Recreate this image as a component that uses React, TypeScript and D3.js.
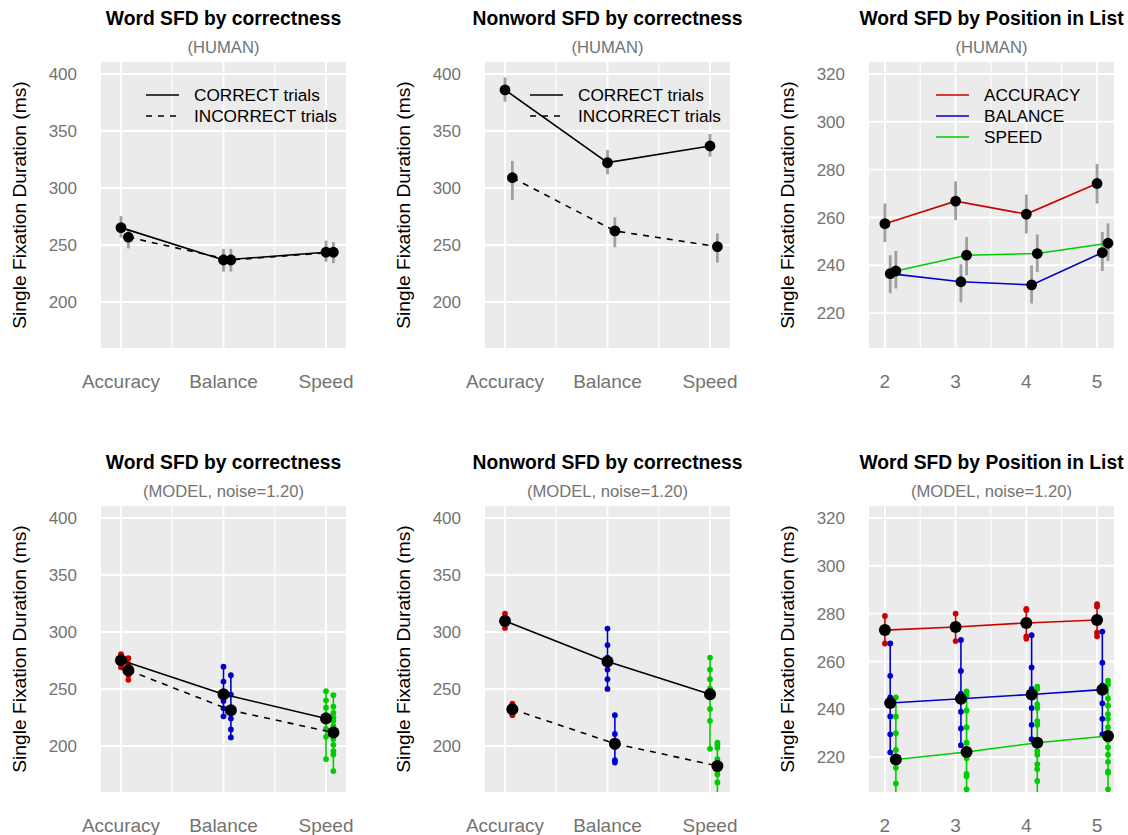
import React, { useEffect, useRef } from "react";
import * as d3 from "d3";

// categories
const conditions = ["Accuracy", "Balance", "Speed"];
const positions = [2, 3, 4, 5];
const seriesNames = ["ACCURACY", "BALANCE", "SPEED"];

// HUMAN - word SFD by correctness
const wordHumanCorrect = [265.2, 236.8, 243.6];
const wordHumanCorrectLo = [256.6, 226.6, 235.3];
const wordHumanCorrectHi = [275.3, 246.5, 253.8];
const wordHumanIncorrect = [256.8, 236.8, 243.6];
const wordHumanIncorrectLo = [247, 226.6, 234];
const wordHumanIncorrectHi = [263.2, 246.5, 252.5];

// HUMAN - nonword SFD by correctness
const nonwordHumanCorrect = [386, 322.2, 336.8];
const nonwordHumanCorrectLo = [375.7, 312, 327.5];
const nonwordHumanCorrectHi = [397, 333.3, 347.4];
const nonwordHumanIncorrect = [309, 262.3, 248.5];
const nonwordHumanIncorrectLo = [289.5, 248, 234.5];
const nonwordHumanIncorrectHi = [323.7, 274.3, 260.2];

// HUMAN - word SFD by position in list
const posHumanAcc = [257.4, 266.8, 261.4, 274.2];
const posHumanAccLo = [249.7, 258.9, 253.3, 265.8];
const posHumanAccHi = [265.8, 275.1, 269.6, 282.4];
const posHumanBal = [236.5, 233.1, 231.8, 245.3];
const posHumanBalLo = [228.3, 224.5, 224, 237.6];
const posHumanBalHi = [244.2, 240.4, 240, 253.9];
const posHumanSpd = [237.6, 244.2, 244.9, 249.2];
const posHumanSpdLo = [230.3, 235.8, 237.2, 241.8];
const posHumanSpdHi = [246, 251.8, 252.9, 257.5];

// MODEL - word SFD by correctness
const wordModelCorrect = [275.2, 245.3, 224];
const wordModelIncorrect = [266.4, 231.3, 211.7];
const wordModelCorrectRuns = [
  [280.5, 278.5, 272, 269],
  [269.5, 256.5, 245, 239.5, 233, 226],
  [248, 240, 233.5, 227.5, 222, 215, 208, 188.5],
];
const wordModelIncorrectRuns = [
  [277, 272, 262, 258],
  [262, 245, 232, 224, 214.5, 207.5],
  [244.5, 234.5, 229, 225, 222, 217.5, 206, 201, 195.5, 192.5, 178],
];

// MODEL - nonword SFD by correctness
const nonwordModelCorrect = [309.7, 274, 245.3];
const nonwordModelIncorrect = [232.2, 202, 182.5];
const nonwordModelCorrectRuns = [
  [316, 303.5],
  [303, 288.5, 277.5, 267, 258.5, 250],
  [277.5, 267, 258.5, 250.5, 242.5, 232.5, 222, 197.5],
];
const nonwordModelIncorrectRuns = [
  [237, 235, 228, 227],
  [227, 210.5, 204, 199, 187.5, 185.5],
  [203, 201, 198.5, 188.5, 185.5, 178, 175, 168, 150],
];

// MODEL - word SFD by position in list
const posModelAcc = [273.1, 274.4, 276.1, 277.3];
const posModelBal = [242.6, 244.4, 246.2, 248.2];
const posModelSpd = [219, 222.1, 226, 228.8];
const posModelAccRuns = [
  [279, 267.5],
  [280, 268.5],
  [282, 281.5, 270.5, 269.5],
  [284, 283, 272, 270.5],
];
const posModelBalRuns = [
  [267.5, 254, 245, 237, 229.5, 222],
  [269, 256, 246.5, 239, 232, 225],
  [271, 257.5, 248.5, 240.5, 233.5, 227.5],
  [272.5, 259.5, 250, 242.5, 236, 229.5],
];
const posModelSpdRuns = [
  [245, 237, 230, 223, 215.5, 209, 198],
  [247.5, 246, 239.5, 232.5, 226, 219.5, 213, 212, 206.5, 198],
  [249.5, 248.5, 242, 240.5, 235, 233.5, 222.5, 221, 217, 215, 210, 198],
  [252, 250.5, 244.5, 241.5, 238, 236, 232.5, 227, 224, 221, 218, 214, 213.5, 206.5, 198],
];

const corrTicks = [200, 250, 300, 350, 400];
const posTicks = [220, 240, 260, 280, 300, 320];

const RED = "#cd0000";
const BLUE = "#0000cd";
const GREEN = "#00cd00";
const colors = [RED, BLUE, GREEN];
const FONT = "'Liberation Sans', Arial, Helvetica, sans-serif";
const GREY_TXT = "#737373";

function frame(svg, col, row, title, subtitle, xDom, yDom, xTicks, xMinor, xLabels, yTicks) {
  const left = 101 + col * 384, top = 62 + row * 444, w = 245, h = 286;
  const x = d3.scaleLinear().domain(xDom).range([left, left + w]);
  const y = d3.scaleLinear().domain(yDom).range([top + h, top]);
  const g = svg.append("g").style("font-family", FONT);

  g.append("rect").attr("x", left).attr("y", top).attr("width", w).attr("height", h).attr("fill", "#ebebeb");
  g.selectAll(".minor").data(xMinor).enter().append("line")
    .attr("x1", d => x(d)).attr("x2", d => x(d)).attr("y1", top).attr("y2", top + h)
    .attr("stroke", "#fff").attr("stroke-width", 1.1);
  g.selectAll(".majx").data(xTicks).enter().append("line")
    .attr("x1", d => x(d)).attr("x2", d => x(d)).attr("y1", top).attr("y2", top + h)
    .attr("stroke", "#fff").attr("stroke-width", 1.9);
  g.selectAll(".majy").data(yTicks).enter().append("line")
    .attr("x1", left).attr("x2", left + w).attr("y1", d => y(d)).attr("y2", d => y(d))
    .attr("stroke", "#fff").attr("stroke-width", 1.9);

  g.append("text").attr("x", left + w / 2).attr("y", top - 37).attr("text-anchor", "middle")
    .attr("font-size", 19.3).attr("font-weight", "bold").attr("fill", "#000").text(title);
  g.append("text").attr("x", left + w / 2).attr("y", top - 9.5).attr("text-anchor", "middle")
    .attr("font-size", 16.6).attr("fill", GREY_TXT).text(subtitle);

  g.selectAll(".ylab").data(yTicks).enter().append("text")
    .attr("x", left - 24).attr("y", d => y(d)).attr("dy", "0.36em").attr("text-anchor", "end")
    .attr("font-size", 17).attr("fill", GREY_TXT).text(d => d);
  g.selectAll(".xlab").data(xTicks).enter().append("text")
    .attr("x", d => x(d)).attr("y", top + h + 40).attr("text-anchor", "middle")
    .attr("font-size", 19).attr("fill", GREY_TXT).text((d, i) => xLabels[i]);

  const yx = 26.4 + col * 384, yy = top + h / 2;
  g.append("text").attr("transform", `translate(${yx},${yy}) rotate(-90)`).attr("text-anchor", "middle")
    .attr("font-size", 19.2).attr("fill", "#000").text("Single Fixation Duration (ms)");

  const id = `clip-${col}-${row}`;
  svg.append("clipPath").attr("id", id).append("rect")
    .attr("x", left).attr("y", top).attr("width", w).attr("height", h);
  const plot = g.append("g").attr("clip-path", `url(#${id})`);
  return { x, y, g, plot, left, top };
}

function errorbars(plot, x, y, xs, lo, hi) {
  plot.selectAll(null).data(xs).enter().append("line")
    .attr("x1", d => x(d)).attr("x2", d => x(d))
    .attr("y1", (d, i) => y(lo[i])).attr("y2", (d, i) => y(hi[i]))
    .attr("stroke", "#a0a0a0").attr("stroke-width", 2.8);
}

function meanLine(plot, x, y, xs, vals, color, dashed) {
  const line = d3.line().x(d => x(d[0])).y(d => y(d[1]));
  const pts = xs.map((d, i) => [d, vals[i]]);
  plot.append("path").attr("d", line(pts)).attr("fill", "none").attr("stroke", color)
    .attr("stroke-width", 1.6).attr("stroke-dasharray", dashed ? "6,6" : null);
  return pts;
}

function dots(plot, x, y, pts, r) {
  plot.selectAll(null).data(pts).enter().append("circle")
    .attr("cx", d => x(d[0])).attr("cy", d => y(d[1])).attr("r", r).attr("fill", "#000");
}

function runs(plot, x, y, xv, vals, color) {
  plot.append("line").attr("x1", x(xv)).attr("x2", x(xv))
    .attr("y1", y(d3.min(vals))).attr("y2", y(d3.max(vals)))
    .attr("stroke", color).attr("stroke-width", 1.6);
  plot.selectAll(null).data(vals).enter().append("circle")
    .attr("cx", x(xv)).attr("cy", d => y(d)).attr("r", 2.9).attr("fill", color);
}

function legend(g, left, top, dx, labels, strokes, dashes) {
  labels.forEach((lab, i) => {
    const yy = top + 33 + i * 21;
    g.append("line").attr("x1", left + dx).attr("x2", left + dx + 33).attr("y1", yy).attr("y2", yy)
      .attr("stroke", strokes[i]).attr("stroke-width", 1.6).attr("stroke-dasharray", dashes[i] ? "6,6" : null);
    g.append("text").attr("x", left + dx + 48).attr("y", yy).attr("dy", "0.36em")
      .attr("font-size", 17.2).attr("fill", "#000").text(lab);
  });
}

const catX = [1, 2, 3];
const corrOff = [0, 0.072];
const posOff = [0, 0.075, 0.155];

function humanCorrectness(svg, col, title, c, cLo, cHi, ic, icLo, icHi) {
  const f = frame(svg, col, 0, title, "(HUMAN)", [0.805, 3.195], [159.6, 410.5], catX, [1.5, 2.5], conditions, corrTicks);
  const xc = catX.map(d => d + corrOff[0]);
  const xi = catX.map(d => d + corrOff[1]);
  errorbars(f.plot, f.x, f.y, xc, cLo, cHi);
  errorbars(f.plot, f.x, f.y, xi, icLo, icHi);
  const p1 = meanLine(f.plot, f.x, f.y, xc, c, "#000", false);
  const p2 = meanLine(f.plot, f.x, f.y, xi, ic, "#000", true);
  dots(f.plot, f.x, f.y, p1, 5.4);
  dots(f.plot, f.x, f.y, p2, 5.4);
  legend(f.g, f.left, f.top, 45, ["CORRECT trials", "INCORRECT trials"], ["#000", "#000"], [false, true]);
}

function modelCorrectness(svg, col, title, c, ic, cRuns, icRuns) {
  const f = frame(svg, col, 1, title, "(MODEL, noise=1.20)", [0.805, 3.195], [159.6, 410.5], catX, [1.5, 2.5], conditions, corrTicks);
  const xc = catX.map(d => d + corrOff[0]);
  const xi = catX.map(d => d + corrOff[1]);
  cRuns.forEach((r, i) => runs(f.plot, f.x, f.y, xc[i], r, colors[i]));
  icRuns.forEach((r, i) => runs(f.plot, f.x, f.y, xi[i], r, colors[i]));
  const p1 = meanLine(f.plot, f.x, f.y, xc, c, "#000", false);
  const p2 = meanLine(f.plot, f.x, f.y, xi, ic, "#000", true);
  dots(f.plot, f.x, f.y, p1, 6);
  dots(f.plot, f.x, f.y, p2, 6);
}

function App() {
  const ref = useRef(null);
  useEffect(() => {
    document.body.style.margin = "0";
    const svg = d3.select(ref.current);
    svg.selectAll("*").remove();

    humanCorrectness(svg, 0, "Word SFD by correctness", wordHumanCorrect, wordHumanCorrectLo, wordHumanCorrectHi,
      wordHumanIncorrect, wordHumanIncorrectLo, wordHumanIncorrectHi);
    humanCorrectness(svg, 1, "Nonword SFD by correctness", nonwordHumanCorrect, nonwordHumanCorrectLo, nonwordHumanCorrectHi,
      nonwordHumanIncorrect, nonwordHumanIncorrectLo, nonwordHumanIncorrectHi);

    // human position
    const f3 = frame(svg, 2, 0, "Word SFD by Position in List", "(HUMAN)", [1.775, 5.24], [205.4, 325],
      positions, [2.5, 3.5, 4.5], positions.map(String), posTicks);
    const hMeans = [posHumanAcc, posHumanBal, posHumanSpd];
    const hLo = [posHumanAccLo, posHumanBalLo, posHumanSpdLo];
    const hHi = [posHumanAccHi, posHumanBalHi, posHumanSpdHi];
    hMeans.forEach((m, s) => errorbars(f3.plot, f3.x, f3.y, positions.map(p => p + posOff[s]), hLo[s], hHi[s]));
    const hPts = hMeans.map((m, s) => meanLine(f3.plot, f3.x, f3.y, positions.map(p => p + posOff[s]), m, colors[s], false));
    hPts.forEach(p => dots(f3.plot, f3.x, f3.y, p, 5.4));
    legend(f3.g, f3.left, f3.top, 67, seriesNames, colors, [false, false, false]);

    modelCorrectness(svg, 0, "Word SFD by correctness", wordModelCorrect, wordModelIncorrect,
      wordModelCorrectRuns, wordModelIncorrectRuns);
    modelCorrectness(svg, 1, "Nonword SFD by correctness", nonwordModelCorrect, nonwordModelIncorrect,
      nonwordModelCorrectRuns, nonwordModelIncorrectRuns);

    // model position
    const f6 = frame(svg, 2, 1, "Word SFD by Position in List", "(MODEL, noise=1.20)", [1.775, 5.24], [205.4, 325],
      positions, [2.5, 3.5, 4.5], positions.map(String), posTicks);
    const mRuns = [posModelAccRuns, posModelBalRuns, posModelSpdRuns];
    const mMeans = [posModelAcc, posModelBal, posModelSpd];
    mRuns.forEach((series, s) => series.forEach((r, i) => runs(f6.plot, f6.x, f6.y, positions[i] + posOff[s], r, colors[s])));
    const mPts = mMeans.map((m, s) => meanLine(f6.plot, f6.x, f6.y, positions.map(p => p + posOff[s]), m, colors[s], false));
    mPts.forEach(p => dots(f6.plot, f6.x, f6.y, p, 6));
  }, []);

  return <svg ref={ref} width={1128} height={835} style={{ display: "block", background: "#fff" }} />;
}

export default App;
